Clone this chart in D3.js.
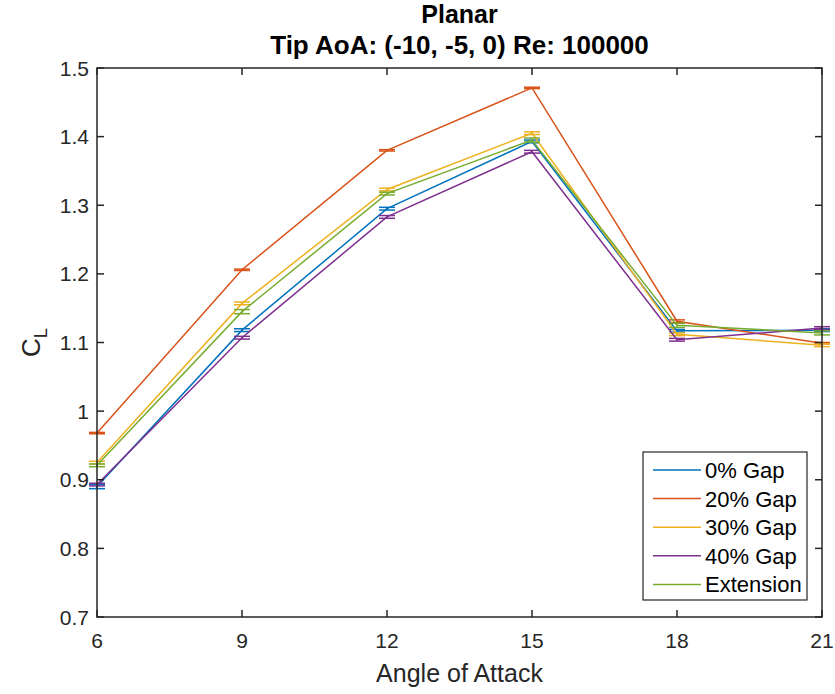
<!DOCTYPE html>
<html>
<head>
  <meta charset="utf-8">
  <script src="https://d3js.org/d3.v7.min.js"></script>
  <style>
    html, body { margin: 0; padding: 0; background: #fff; }
    svg { display: block; font-family: "Liberation Sans", Arial, sans-serif; }
  </style>
</head>
<body>
  <svg width="835" height="694"></svg>
  <script>
    // chart data
    const angles = [6, 9, 12, 15, 18, 21];
    const seriesNames = ["0% Gap", "20% Gap", "30% Gap", "40% Gap", "Extension"];
    const seriesColors = ["#0072BD", "#D95319", "#EDB120", "#7E2F8E", "#77AC30"];
    const gap0 = [0.890, 1.118, 1.295, 1.393, 1.117, 1.118];
    const gap20 = [0.968, 1.206, 1.380, 1.471, 1.131, 1.099];
    const gap30 = [0.925, 1.157, 1.323, 1.405, 1.112, 1.096];
    const gap40 = [0.893, 1.107, 1.283, 1.378, 1.104, 1.121];
    const extension = [0.921, 1.145, 1.317, 1.395, 1.125, 1.114];
    const err0 = [0.003, 0.002, 0.002, 0.002, 0.002, 0.002];
    const err20 = [0.001, 0.001, 0.001, 0.001, 0.002, 0.001];
    const err30 = [0.002, 0.002, 0.002, 0.002, 0.002, 0.002];
    const err40 = [0.002, 0.002, 0.002, 0.002, 0.002, 0.002];
    const errExt = [0.002, 0.003, 0.002, 0.003, 0.003, 0.003];
    const xTicks = [6, 9, 12, 15, 18, 21];
    const yTicks = [0.7, 0.8, 0.9, 1, 1.1, 1.2, 1.3, 1.4, 1.5];

    const allValues = [gap0, gap20, gap30, gap40, extension];
    const allErrs = [err0, err20, err30, err40, errExt];

    const svg = d3.select("svg");
    const pLeft = 97, pRight = 822, pTop = 68, pBottom = 617;
    const axisColor = "#262626";

    const x = d3.scaleLinear().domain([6, 21]).range([pLeft, pRight]);
    const y = d3.scaleLinear().domain([0.7, 1.5]).range([pBottom, pTop]);

    // series with error bars
    const line = d3.line().x((d, i) => x(angles[i])).y(d => y(d));
    allValues.forEach((vals, s) => {
      const g = svg.append("g");
      g.append("path")
        .attr("d", line(vals))
        .attr("fill", "none")
        .attr("stroke", seriesColors[s])
        .attr("stroke-width", 1.5);
      vals.forEach((v, i) => {
        const e = allErrs[s][i];
        const cx = x(angles[i]);
        g.append("line")
          .attr("x1", cx).attr("x2", cx)
          .attr("y1", y(v - e)).attr("y2", y(v + e))
          .attr("stroke", seriesColors[s]).attr("stroke-width", 1.5);
        [v - e, v + e].forEach(b => {
          g.append("line")
            .attr("x1", cx - 8).attr("x2", cx + 8)
            .attr("y1", y(b)).attr("y2", y(b))
            .attr("stroke", seriesColors[s]).attr("stroke-width", 1.5);
        });
      });
    });

    // box and ticks
    svg.append("rect")
      .attr("x", pLeft).attr("y", pTop)
      .attr("width", pRight - pLeft).attr("height", pBottom - pTop)
      .attr("fill", "none").attr("stroke", axisColor).attr("stroke-width", 1.5);

    const tickLen = 7;
    xTicks.forEach(t => {
      const px = x(t);
      svg.append("line").attr("x1", px).attr("x2", px).attr("y1", pBottom).attr("y2", pBottom - tickLen)
        .attr("stroke", axisColor).attr("stroke-width", 1.5);
      svg.append("line").attr("x1", px).attr("x2", px).attr("y1", pTop).attr("y2", pTop + tickLen)
        .attr("stroke", axisColor).attr("stroke-width", 1.5);
      svg.append("text").attr("x", px).attr("y", pBottom + 31)
        .attr("text-anchor", "middle").attr("font-size", 21).attr("fill", axisColor)
        .text(t);
    });
    yTicks.forEach(t => {
      const py = y(t);
      svg.append("line").attr("x1", pLeft).attr("x2", pLeft + tickLen).attr("y1", py).attr("y2", py)
        .attr("stroke", axisColor).attr("stroke-width", 1.5);
      svg.append("line").attr("x1", pRight).attr("x2", pRight - tickLen).attr("y1", py).attr("y2", py)
        .attr("stroke", axisColor).attr("stroke-width", 1.5);
      svg.append("text").attr("x", pLeft - 8).attr("y", py + 7.5)
        .attr("text-anchor", "end").attr("font-size", 21).attr("fill", axisColor)
        .text(d3.format("~g")(t));
    });

    // labels
    svg.append("text").attr("x", (pLeft + pRight) / 2).attr("y", 682)
      .attr("text-anchor", "middle").attr("font-size", 25).attr("fill", axisColor)
      .text("Angle of Attack");

    const yl = svg.append("text")
      .attr("transform", `translate(40, ${(pTop + pBottom) / 2}) rotate(-90)`)
      .attr("text-anchor", "middle").attr("font-size", 26).attr("fill", axisColor);
    yl.append("tspan").text("C");
    yl.append("tspan").attr("font-size", 18).attr("dy", 7).text("L");

    svg.append("text").attr("x", (pLeft + pRight) / 2).attr("y", 23)
      .attr("text-anchor", "middle").attr("font-size", 25).attr("font-weight", "bold").attr("fill", "#000")
      .text("Planar");
    svg.append("text").attr("x", (pLeft + pRight) / 2).attr("y", 54)
      .attr("text-anchor", "middle").attr("font-size", 26).attr("font-weight", "bold").attr("fill", "#000")
      .text("Tip AoA: (-10, -5, 0) Re: 100000");

    // legend
    const lg = svg.append("g");
    lg.append("rect").attr("x", 643).attr("y", 452).attr("width", 164).attr("height", 148)
      .attr("fill", "#fff").attr("stroke", axisColor).attr("stroke-width", 1.2);
    seriesNames.forEach((name, i) => {
      const ry = 470 + i * 28.6;
      lg.append("line").attr("x1", 653).attr("x2", 701).attr("y1", ry).attr("y2", ry)
        .attr("stroke", seriesColors[i]).attr("stroke-width", 1.5);
      lg.append("text").attr("x", 705).attr("y", ry + 8)
        .attr("font-size", 22).attr("fill", "#000").text(name);
    });
  </script>
</body>
</html>
